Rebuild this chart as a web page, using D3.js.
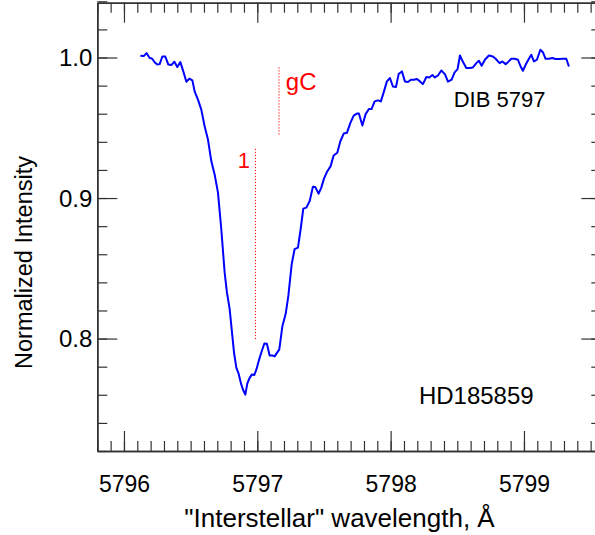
<!DOCTYPE html>
<html><head><meta charset="utf-8">
<script src="https://cdn.jsdelivr.net/npm/d3@7"></script>
<style>body{margin:0;background:#fff}svg{display:block}</style>
</head><body>
<svg id="chart" width="595" height="535"></svg>
<script>
// ---- data ----
const wavelength = [5796.123,5796.148,5796.170,5796.1925,5796.210,5796.230,5796.250,5796.2675,5796.288,5796.310,
5796.333,5796.355,5796.378,5796.400,5796.423,5796.445,5796.468,5796.490,5796.513,5796.530,
5796.555,5796.580,5796.605,5796.630,5796.655,5796.680,5796.705,5796.730,5796.755,5796.772,
5796.7925,5796.810,5796.825,5796.843,5796.860,5796.880,5796.895,5796.910,5796.925,5796.9425,
5796.960,5796.978,5796.995,5797.012,5797.0325,5797.053,5797.072,5797.0925,5797.113,5797.130,
5797.165,5797.188,5797.213,5797.233,5797.258,5797.280,5797.305,5797.325,5797.345,5797.368,
5797.393,5797.417,5797.435,5797.460,5797.480,5797.500,5797.522,5797.550,5797.5725,5797.600,
5797.623,5797.648,5797.672,5797.698,5797.723,5797.747,5797.762,5797.788,5797.8125,5797.837,
5797.8575,5797.880,5797.905,5797.927,5797.950,5797.972,5797.995,5798.017,5798.040,5798.060,
5798.085,5798.107,5798.130,5798.152,5798.175,5798.197,5798.220,5798.242,5798.268,5798.290,
5798.313,5798.332,5798.355,5798.380,5798.407,5798.430,5798.4575,5798.480,5798.502,5798.520,
5798.540,5798.5675,5798.592,5798.617,5798.643,5798.662,5798.6825,5798.707,5798.737,5798.767,
5798.7875,5798.8175,5798.838,5798.8625,5798.880,5798.905,5798.930,5798.955,5798.975,5798.992,
5799.0125,5799.037,5799.055,5799.075,5799.097,5799.123,5799.142,5799.162,5799.187,5799.213,
5799.237,5799.262,5799.292,5799.3175,5799.337];
const intensity = [1.0012,1.0010,1.0031,0.9996,0.9993,0.9967,0.9950,0.9953,1.0007,1.0007,
0.9950,0.9946,0.9970,0.9932,0.9967,0.9901,0.9828,0.9849,0.9837,0.9759,
0.9700,0.9629,0.9511,0.9416,0.9263,0.9168,0.9039,0.8778,0.8471,0.8330,
0.8211,0.8046,0.7904,0.7791,0.7750,0.7672,0.7632,0.7601,0.7679,0.7720,
0.7745,0.7741,0.7786,0.7845,0.7908,0.7965,0.7963,0.7880,0.7880,0.7873,
0.7923,0.8087,0.8176,0.8305,0.8530,0.8637,0.8647,0.8778,0.8925,0.8932,
0.8979,0.9081,0.9078,0.9031,0.9074,0.9138,0.9185,0.9227,0.9303,0.9322,
0.9404,0.9459,0.9464,0.9535,0.9587,0.9601,0.9601,0.9516,0.9597,0.9634,
0.9634,0.9688,0.9695,0.9688,0.9759,0.9830,0.9854,0.9794,0.9790,0.9882,
0.9901,0.9830,0.9826,0.9842,0.9842,0.9847,0.9830,0.9811,0.9861,0.9858,
0.9875,0.9858,0.9872,0.9908,0.9882,0.9828,0.9842,0.9894,0.9918,1.0014,
0.9973,0.9925,0.9925,0.9929,0.9960,0.9977,0.9941,0.9984,1.0014,1.0007,
0.9991,0.9960,0.9972,0.9953,0.9967,0.9991,0.9991,0.9984,0.9936,0.9906,
0.9948,0.9991,1.0019,0.9972,0.9984,1.0055,1.0038,0.9991,0.9991,0.9996,
0.9989,0.9989,0.9991,0.9991,0.9936];
const xTickValues = [5796, 5797, 5798, 5799];
const xTickLabels = ["5796", "5797", "5798", "5799"];
const yTickValues = [0.8, 0.9, 1.0];
const yTickLabels = ["0.8", "0.9", "1.0"];
const markerLabels = ["1", "gC"];
const markerWavelength = [5796.986, 5797.163];
const markerTop = [0.935, 0.993];
const markerBottom = [0.799, 0.944];
const xTitle = "\"Interstellar\" wavelength, \u00C5";
const yTitle = "Normalized Intensity";
const notes = ["DIB 5797", "HD185859"];

// ---- layout ----
const svg = d3.select("#chart");
const font = "'Liberation Sans', Arial, Helvetica, sans-serif";
const L = 97.3, R = 601.3, T = 2.7, B = 451;
const x = d3.scaleLinear().domain([5795.8, 5799.58]).range([L, R]);
const y = d3.scaleLinear().domain([0.72, 1.039]).range([B, T]);
const axisColor = "#333";

const xMinor = d3.range(5795.8, 5799.6, 0.1).map(v => +v.toFixed(1));
const yMinor = d3.range(0.72, 1.04, 0.02).map(v => +v.toFixed(2));

function styleAxis(g) {
  g.select(".domain").attr("stroke", axisColor).attr("stroke-width", 1.5);
  g.selectAll(".tick line").attr("stroke", axisColor).attr("stroke-width", 1.2);
  g.selectAll("text").attr("font-family", font);
}

// bottom
const gb = svg.append("g").attr("transform", `translate(0,${B})`);
gb.append("g").call(d3.axisBottom(x).tickValues(xMinor).tickSizeInner(-10).tickSizeOuter(0).tickFormat("")).call(styleAxis);
gb.append("g").call(d3.axisBottom(x).tickValues(xTickValues).tickSizeInner(-20).tickSizeOuter(0)
  .tickFormat((d,i) => xTickLabels[i])).call(styleAxis)
  .selectAll("text").attr("font-size", 23).attr("fill", "#000").attr("y", 40.7).attr("dy", 0);
// top
const gt = svg.append("g").attr("transform", `translate(0,${T})`);
gt.append("g").call(d3.axisTop(x).tickValues(xMinor).tickSizeInner(-10).tickSizeOuter(0).tickFormat("")).call(styleAxis);
gt.append("g").call(d3.axisTop(x).tickValues(xTickValues).tickSizeInner(-20).tickSizeOuter(0).tickFormat("")).call(styleAxis);
// left
const gl = svg.append("g").attr("transform", `translate(${L},0)`);
gl.append("g").call(d3.axisLeft(y).tickValues(yMinor).tickSizeInner(-10).tickSizeOuter(0).tickFormat("")).call(styleAxis);
gl.append("g").call(d3.axisLeft(y).tickValues(yTickValues).tickSizeInner(-20).tickSizeOuter(0)
  .tickFormat((d,i) => yTickLabels[i])).call(styleAxis)
  .selectAll("text").attr("font-size", 24).attr("fill", "#000").attr("x", -5).attr("dy", "0.35em");
// right
const gr = svg.append("g").attr("transform", `translate(${R},0)`);
gr.append("g").call(d3.axisRight(y).tickValues(yMinor).tickSizeInner(-10).tickSizeOuter(0).tickFormat("")).call(styleAxis);
gr.append("g").call(d3.axisRight(y).tickValues(yTickValues).tickSizeInner(-20).tickSizeOuter(0).tickFormat("")).call(styleAxis);

// marker lines
markerLabels.forEach((lab, i) => {
  svg.append("line")
    .attr("x1", x(markerWavelength[i])).attr("x2", x(markerWavelength[i]))
    .attr("y1", y(markerTop[i])).attr("y2", y(markerBottom[i]))
    .attr("stroke", "#f00").attr("stroke-width", 1).attr("stroke-dasharray", "1.2,1.8");
});
svg.append("text").attr("x", x(5796.853)).attr("y", y(0.9217)).text(markerLabels[0])
  .attr("font-family", font).attr("font-size", 22).attr("fill", "#f00");
svg.append("text").attr("x", x(5797.214)).attr("y", y(0.9767)).text(markerLabels[1])
  .attr("font-family", font).attr("font-size", 24).attr("fill", "#f00");

// spectrum
const pts = wavelength.map((w, i) => [w, intensity[i]]);
svg.append("path").datum(pts)
  .attr("d", d3.line().x(d => x(d[0])).y(d => y(d[1])))
  .attr("fill", "none").attr("stroke", "#0000ff").attr("stroke-width", 2).attr("stroke-linejoin", "round");

// notes
svg.append("text").attr("x", x(5798.473)).attr("y", y(0.9651)).text(notes[0])
  .attr("font-family", font).attr("font-size", 22).attr("fill", "#000");
svg.append("text").attr("x", x(5798.212)).attr("y", y(0.7535)).text(notes[1])
  .attr("font-family", font).attr("font-size", 24).attr("fill", "#000");

// titles
svg.append("text").attr("x", 339.5).attr("y", 527).attr("text-anchor", "middle")
  .attr("font-family", font).attr("font-size", 26).attr("fill", "#000").text(xTitle);
svg.append("text").attr("transform", "translate(31.5,262.5) rotate(-90)").attr("text-anchor", "middle")
  .attr("font-family", font).attr("font-size", 23.5).attr("fill", "#000").text(yTitle);
</script>
</body></html>
